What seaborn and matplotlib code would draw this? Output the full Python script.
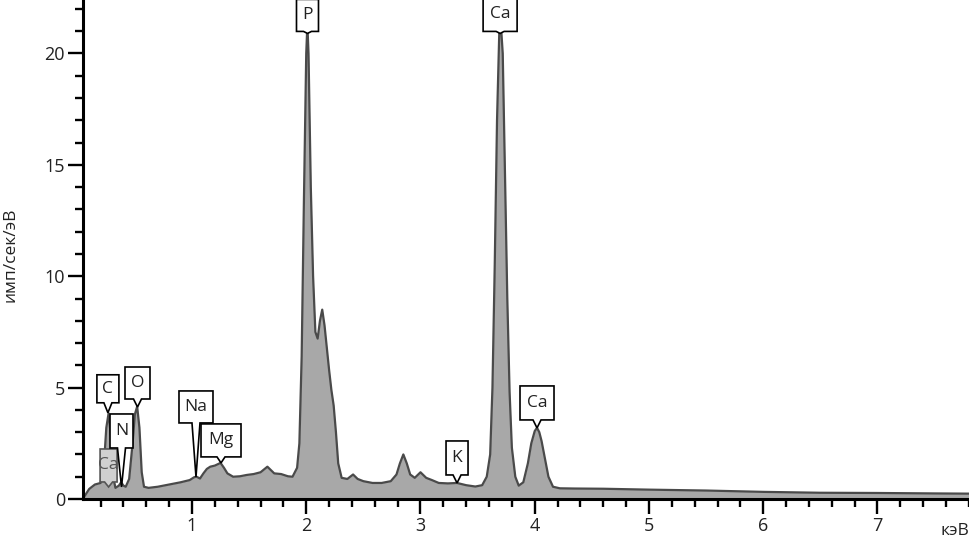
import numpy as np
import pandas as pd
import seaborn as sns
import matplotlib
matplotlib.use("Agg")
import matplotlib.pyplot as plt
from matplotlib.patches import Polygon
from matplotlib.transforms import ScaledTranslation

# ---------------- data ----------------
energy_kev = [0.05, 0.10, 0.15, 0.20, 0.23, 0.25, 0.27, 0.29, 0.31, 0.33, 0.36, 0.38,
              0.40, 0.42, 0.45, 0.48, 0.50, 0.52, 0.54, 0.56, 0.58, 0.62, 0.70, 0.80,
              0.90, 0.98, 1.02, 1.04, 1.07, 1.10, 1.13, 1.16, 1.20, 1.25, 1.28, 1.31,
              1.36, 1.42, 1.48, 1.54, 1.60, 1.66, 1.72, 1.78, 1.84, 1.88, 1.92, 1.94,
              1.96, 1.98, 2.00, 2.01, 2.02, 2.04, 2.06, 2.08, 2.10, 2.12, 2.14, 2.16,
              2.18, 2.20, 2.22, 2.24, 2.26, 2.28, 2.31, 2.36, 2.41, 2.45, 2.50, 2.58,
              2.66, 2.74, 2.79, 2.82, 2.85, 2.88, 2.91, 2.95, 3.00, 3.05, 3.10, 3.16,
              3.24, 3.32, 3.40, 3.48, 3.54, 3.58, 3.61, 3.63, 3.65, 3.67, 3.69, 3.70,
              3.72, 3.74, 3.76, 3.78, 3.80, 3.83, 3.86, 3.90, 3.94, 3.97, 4.00, 4.02,
              4.04, 4.06, 4.09, 4.12, 4.16, 4.22, 4.35, 4.60, 5.00, 5.50, 6.00, 6.50,
              7.00, 7.50, 7.81]
counts = [0.05, 0.45, 0.65, 0.72, 1.6, 3.2, 3.85, 2.8, 1.0, 0.5, 0.6, 0.75,
          0.6, 0.55, 0.9, 2.5, 3.8, 4.15, 3.2, 1.2, 0.55, 0.5, 0.55, 0.65,
          0.75, 0.85, 0.98, 1.0, 0.92, 1.15, 1.35, 1.45, 1.5, 1.62, 1.4, 1.15,
          1.0, 1.02, 1.08, 1.12, 1.2, 1.45, 1.15, 1.12, 1.02, 1.0, 1.4, 2.5,
          6.4, 13.5, 20.0, 21.3, 20.0, 14.0, 10.0, 7.5, 7.2, 8.0, 8.5, 7.8,
          6.8, 5.8, 4.9, 4.2, 3.0, 1.6, 0.95, 0.9, 1.1, 0.9, 0.8, 0.72,
          0.72, 0.8, 1.1, 1.6, 2.0, 1.6, 1.1, 0.95, 1.2, 0.95, 0.85, 0.72,
          0.7, 0.72, 0.62, 0.56, 0.62, 1.0, 2.0, 5.0, 10.5, 17.0, 21.0, 21.6,
          20.0, 14.5, 9.0, 4.8, 2.3, 1.0, 0.6, 0.75, 1.6, 2.5, 3.05, 3.2,
          3.0, 2.6, 1.8, 1.0, 0.55, 0.48, 0.47, 0.46, 0.42, 0.38, 0.32, 0.28,
          0.27, 0.25, 0.24]

label_names = ["Ca", "C", "O", "N", "Na", "Mg", "P", "Ca", "K", "Ca"]
label_kev = [0.27, 0.264, 0.523, 0.383, 1.035, 1.254, 2.011, 3.697, 3.32, 4.02]
label_tip = [0.54, 3.87, 4.13, 0.54, 0.99, 1.62, 20.9, 20.9, 0.72, 3.19]

y_ticks = [0, 5, 10, 15, 20]
x_ticks = [1, 2, 3, 4, 5, 6, 7]

# ------------- layout / style (pixels) -------------
box_w = [17, 22, 25, 23, 34, 40, 22, 34, 22, 34]
box_h = [33, 28, 32, 34, 32, 33, 32, 34, 34, 34]
gap = [5, 10, 8, 39, 54, 6, 2, 2, 8, 8]

sns.set_theme(style="ticks")
plt.rcParams['font.family'] = ['Open Sans', 'DejaVu Sans']

fig = plt.figure(figsize=(9.70, 5.48), dpi=100)
ax = fig.add_axes([83 / 970, 49 / 548, 1 - 83 / 970, 1 - 49 / 548])

df = pd.DataFrame({"keV": energy_kev, "cps": counts})
ax.fill_between(df["keV"], 0, df["cps"], color="#a8a8a8", lw=0, zorder=1)
sns.lineplot(data=df, x="keV", y="cps", ax=ax, color="#4a4a4a", lw=1.6, zorder=2)

ax.set_xlim(0.046, 7.81)
ax.set_ylim(0, 22.4)

ax.set_xticks(x_ticks)
ax.set_xticklabels([str(t) for t in x_ticks])
ax.set_xticks(np.arange(0.2, 7.81, 0.2), minor=True)
ax.set_yticks(y_ticks)
ax.set_yticklabels([str(t) for t in y_ticks])
ax.set_yticks(np.arange(0, 23, 1), minor=True)

ax.tick_params(which="major", length=11, width=1.7, color="black",
               labelsize=13, labelcolor="#222222", pad=2)
ax.tick_params(which="minor", length=5.5, width=1.7, color="black")
for s in ["top", "right"]:
    ax.spines[s].set_visible(False)
for s in ["left", "bottom"]:
    ax.spines[s].set_linewidth(2.2)
    ax.spines[s].set_color("black")

ax.set_xlabel("")
ax.set_ylabel("имп/сек/эВ", fontsize=12.5, color="#222222")
ax.yaxis.set_label_coords(-0.073, 0.49)
fig.text(955 / 970, 1 - 531 / 548, "кэВ", ha="center", va="center",
         fontsize=12.5, color="#222222")

# ------------- element labels -------------
pw = 8
for i, (name, xk, yt) in enumerate(zip(label_names, label_kev, label_tip)):
    w, h, g = box_w[i], box_h[i], gap[i]
    trans = fig.dpi_scale_trans + ScaledTranslation(xk, yt, ax.transData)
    verts = np.array([(0, 0), (pw / 2, g), (w / 2, g), (w / 2, g + h),
                      (-w / 2, g + h), (-w / 2, g), (-pw / 2, g)]) / 100.0
    faded = (i == 0)
    poly = Polygon(verts, closed=True, transform=trans,
                   facecolor="#d0d0d0" if faded else "white",
                   edgecolor="#555555" if faded else "black",
                   lw=1.2, clip_on=False, zorder=3 + i)
    ax.add_patch(poly)
    ax.text(0, (g + h / 2) / 100.0, name, transform=trans, ha="center",
            va="center", fontsize=12.5, color="#555555" if faded else "#222222",
            zorder=3 + i, clip_on=False)

fig.savefig("out.png", dpi=100)
